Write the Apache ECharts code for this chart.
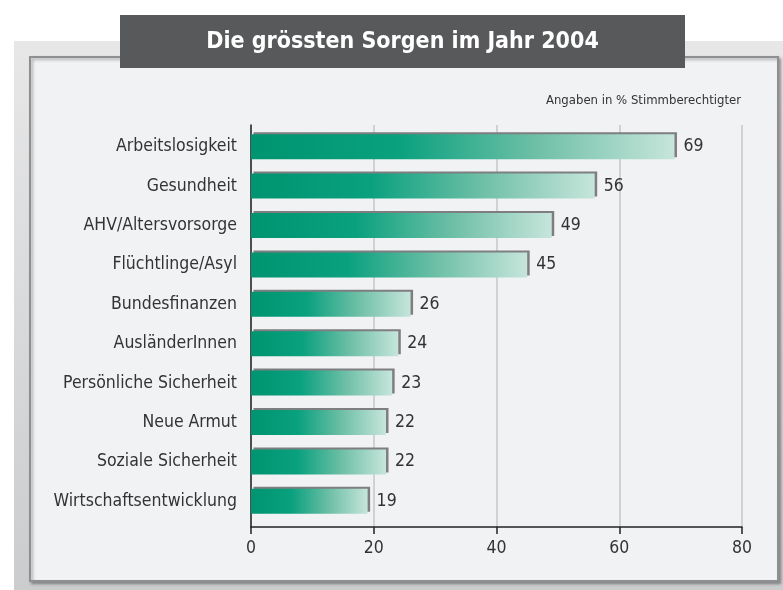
<!DOCTYPE html>
<html>
<head>
<meta charset="utf-8">
<script src="https://cdn.jsdelivr.net/npm/echarts@6/dist/echarts.min.js"></script>
<style>
html,body{margin:0;padding:0;background:#fff;}
#c{width:783px;height:590px;}
</style>
</head>
<body>
<div id="c"></div>
<script>
const categories = ['Arbeitslosigkeit','Gesundheit','AHV/Altersvorsorge','Flüchtlinge/Asyl','Bundesfinanzen','AusländerInnen','Persönliche Sicherheit','Neue Armut','Soziale Sicherheit','Wirtschaftsentwicklung'];
const values = [69,56,49,45,26,24,23,22,22,19];
const xTicks = [0,20,40,60,80];
const titleText = 'Die grössten Sorgen im Jahr 2004';
const noteText = 'Angaben in % Stimmberechtigter';

const FONT = "'DejaVu Sans Condensed', 'Liberation Sans Narrow', sans-serif";
const chart = echarts.init(document.getElementById('c'), null, {renderer:'canvas'});
const L = 251, R = 783 - 742;
chart.setOption({
  animation:false,
  backgroundColor:'#ffffff',
  textStyle:{fontFamily:FONT},
  graphic:[
    {type:'rect', z:-10, shape:{x:14,y:41,width:769,height:549},
     style:{fill:new echarts.graphic.LinearGradient(0,0,0,1,[{offset:0,color:'#e7e7e8'},{offset:1,color:'#cbccce'}])}},
    {type:'rect', z:-9, shape:{x:30,y:57,width:748,height:524},
     style:{fill:'#f1f2f4', stroke:'#8e8f91', lineWidth:2, shadowColor:'rgba(0,0,0,0.3)', shadowBlur:3, shadowOffsetX:2, shadowOffsetY:2}},
    {type:'rect', z:50, shape:{x:120,y:15,width:565,height:53}, style:{fill:'#58595b'}},
    {type:'text', z:51, x:402.5, y:42, style:{text:titleText, fill:'#ffffff', font:"bold 23px "+FONT, textAlign:'center', textVerticalAlign:'middle'}},
    {type:'text', z:51, x:741, y:101, style:{text:noteText, fill:'#333333', font:"13px "+FONT, textAlign:'right', textVerticalAlign:'middle'}}
  ],
  grid:[
    {left:L, right:R, top:125, bottom:63},
    {left:L, right:R, top:127, height:394}
  ],
  xAxis:[
    {gridIndex:0, type:'value', min:xTicks[0], max:xTicks[xTicks.length-1], interval:20,
     axisLine:{show:true, lineStyle:{color:'#222', width:1.5}},
     axisTick:{show:true, length:7, lineStyle:{color:'#222', width:1.5}},
     axisLabel:{fontSize:17.5, color:'#333', margin:12, fontFamily:FONT},
     splitLine:{show:true, lineStyle:{color:'#c5c6c8', width:1.5}}},
    {gridIndex:1, type:'value', min:xTicks[0], max:xTicks[xTicks.length-1], show:false}
  ],
  yAxis:[
    {gridIndex:0, type:'value', min:0, max:1, axisLine:{show:true, lineStyle:{color:'#222', width:1.5}},
     axisTick:{show:false}, axisLabel:{show:false}, splitLine:{show:false}},
    {gridIndex:1, type:'category', inverse:true, data:categories,
     axisLine:{show:false}, axisTick:{show:false},
     axisLabel:{fontSize:17.5, color:'#333', margin:14, fontFamily:FONT}}
  ],
  series:[{
    type:'bar', xAxisIndex:1, yAxisIndex:1, data:values, barWidth:25,
    itemStyle:{
      color:new echarts.graphic.LinearGradient(0,0,1,0,[
        {offset:0,color:'#009470'},{offset:0.35,color:'#0aa17f'},{offset:0.68,color:'#70c0a7'},{offset:1,color:'#c6e5db'}]),
      shadowColor:'#7e7e80', shadowBlur:0, shadowOffsetX:2.5, shadowOffsetY:-2
    },
    label:{show:true, position:'right', distance:9, fontSize:17.5, color:'#333', fontFamily:FONT}
  }]
});
</script>
</body>
</html>
